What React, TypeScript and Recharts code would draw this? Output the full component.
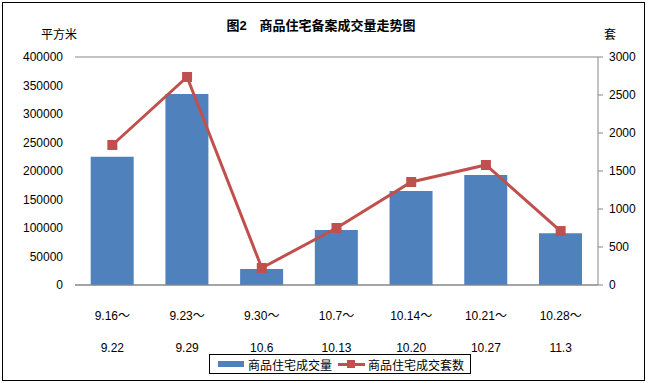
import {
  ComposedChart,
  Bar,
  Line,
  XAxis,
  YAxis,
  CartesianGrid,
} from "recharts";

const weekStart = ["9.16～", "9.23～", "9.30～", "10.7～", "10.14～", "10.21～", "10.28～"];
const weekEnd = ["9.22", "9.29", "10.6", "10.13", "10.20", "10.27", "11.3"];
const area = [225000, 335000, 28000, 96500, 165000, 193000, 91000];
const units = [1842, 2737, 224, 750, 1355, 1579, 710];
const leftTicks = [0, 50000, 100000, 150000, 200000, 250000, 300000, 350000, 400000];
const rightTicks = [0, 500, 1000, 1500, 2000, 2500, 3000];

const data = weekStart.map((s, i) => ({
  name: s,
  end: weekEnd[i],
  area: area[i],
  units: units[i],
}));

const FONT = "'Liberation Sans', 'Noto Sans CJK SC', sans-serif";
const BLUE = "#4F81BD";
const RED = "#C0504D";

function WeekTick({ x, y, payload, index }: any) {
  return (
    <g>
      <text x={x} y={y + 27} textAnchor="middle" fontSize={12} fill="#000" fontFamily={FONT}>
        {payload.value}
      </text>
      <text x={x} y={y + 59} textAnchor="middle" fontSize={12} fill="#000" fontFamily={FONT}>
        {weekEnd[index]}
      </text>
    </g>
  );
}

function SquareDot({ cx, cy }: any) {
  if (cx == null || cy == null) return null;
  return <rect x={cx - 5} y={cy - 5} width={10} height={10} fill={RED} />;
}

export default function App() {
  return (
    <div style={{ position: "fixed", left: 0, top: 0, width: 648, height: 383, background: "#fff" }}>
      <div
        style={{
          position: "absolute",
          left: 2,
          top: 2,
          width: 641,
          height: 377,
          border: "1.5px solid #000",
        }}
      />
      <div
        style={{
          position: "absolute",
          left: 0,
          width: 642,
          top: 15,
          textAlign: "center",
          fontFamily: FONT,
          fontSize: 13,
          fontWeight: "bold",
        }}
      >
        图2　商品住宅备案成交量走势图
      </div>
      <div style={{ position: "absolute", left: 41, top: 25, fontFamily: FONT, fontSize: 12 }}>平方米</div>
      <div style={{ position: "absolute", left: 604, top: 25, fontFamily: FONT, fontSize: 12 }}>套</div>
      <div style={{ position: "absolute", left: 0, top: 0 }}>
        <ComposedChart
          width={648}
          height={383}
          data={data}
          margin={{ top: 57, right: 0, left: 0, bottom: 28 }}
          barCategoryGap="21%"
        >
          <CartesianGrid vertical={false} stroke="#868686" strokeWidth={1} />
          <XAxis
            dataKey="name"
            height={70}
            axisLine={{ stroke: "#868686" }}
            tickLine={false}
            interval={0}
            tick={<WeekTick />}
          />
          <YAxis
            yAxisId="left"
            width={75}
            domain={[0, 400000]}
            ticks={leftTicks}
            axisLine={false}
            tickLine={false}
            tickSize={0}
            tickMargin={12}
            tick={{ fontSize: 12, fill: "#000", fontFamily: FONT }}
          />
          <YAxis
            yAxisId="right"
            orientation="right"
            width={50}
            domain={[0, 3000]}
            ticks={rightTicks}
            axisLine={{ stroke: "#868686" }}
            tickLine={{ stroke: "#868686" }}
            tickSize={5}
            tickMargin={6}
            tick={{ fontSize: 12, fill: "#000", fontFamily: FONT, textAnchor: "start" }}
          />
          <Bar yAxisId="left" dataKey="area" fill={BLUE} isAnimationActive={false} />
          <Line
            yAxisId="right"
            dataKey="units"
            stroke={RED}
            strokeWidth={3}
            dot={<SquareDot />}
            activeDot={false}
            isAnimationActive={false}
          />
        </ComposedChart>
      </div>
      <div
        style={{
          position: "absolute",
          left: 209,
          top: 354,
          width: 262,
          height: 20,
          border: "1px solid #000",
          display: "flex",
          alignItems: "center",
          fontFamily: FONT,
          fontSize: 12,
          whiteSpace: "nowrap",
          boxSizing: "border-box",
        }}
      >
        <span style={{ flexShrink: 0, width: 26, height: 6, background: BLUE, marginLeft: 8, marginRight: 4 }} />
        <span style={{ flexShrink: 0 }}>商品住宅成交量</span>
        <span style={{ flexShrink: 0, position: "relative", width: 27, height: 10, marginLeft: 6, marginRight: 3 }}>
          <span style={{ position: "absolute", left: 0, top: 4, width: 27, height: 3, background: RED }} />
          <span style={{ position: "absolute", left: 9, top: 1, width: 8, height: 8, background: RED }} />
        </span>
        <span style={{ flexShrink: 0 }}>商品住宅成交套数</span>
      </div>
    </div>
  );
}
